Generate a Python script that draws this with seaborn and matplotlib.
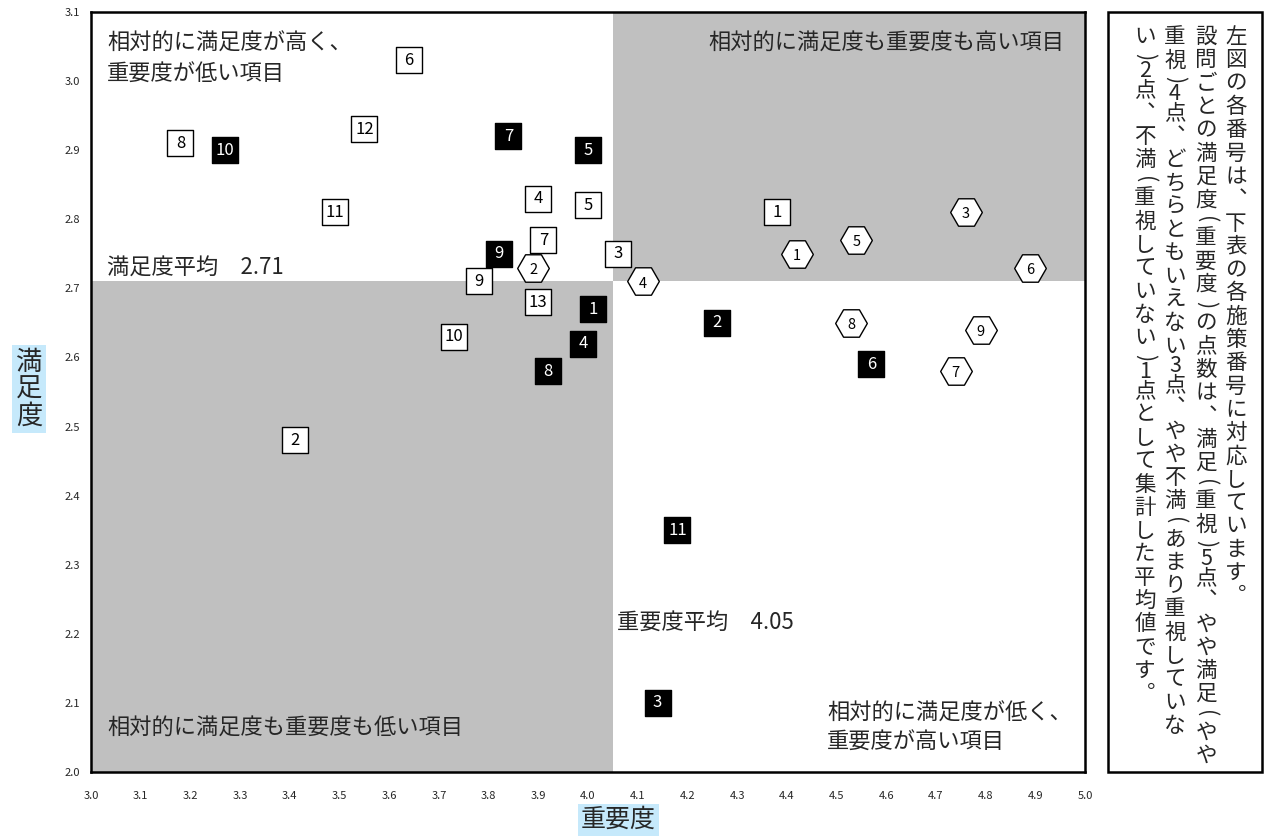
import numpy as np
import pandas as pd
import matplotlib
matplotlib.use("Agg")
import matplotlib.pyplot as plt
import seaborn as sns
from matplotlib.patches import Rectangle

# 白四角の施策
white_no = [1, 2, 3, 4, 5, 6, 7, 8, 9, 10, 11, 12, 13]
white_imp = [4.38, 3.41, 4.06, 3.90, 4.00, 3.64, 3.91, 3.18, 3.78, 3.73, 3.49, 3.55, 3.90]
white_sat = [2.81, 2.48, 2.75, 2.83, 2.82, 3.03, 2.77, 2.91, 2.71, 2.63, 2.81, 2.93, 2.68]

# 黒四角の施策
black_no = [1, 2, 3, 4, 5, 6, 7, 8, 9, 10, 11]
black_imp = [4.01, 4.26, 4.14, 3.99, 4.00, 4.57, 3.84, 3.92, 3.82, 3.27, 4.18]
black_sat = [2.67, 2.65, 2.10, 2.62, 2.90, 2.59, 2.92, 2.58, 2.75, 2.90, 2.35]

# 六角形の施策
hex_no = [1, 2, 3, 4, 5, 6, 7, 8, 9]
hex_imp = [4.42, 3.89, 4.76, 4.11, 4.54, 4.89, 4.74, 4.53, 4.79]
hex_sat = [2.75, 2.73, 2.81, 2.71, 2.77, 2.73, 2.58, 2.65, 2.64]

sat_mean = 2.71
imp_mean = 4.05

x_ticks = np.round(np.arange(3.0, 5.001, 0.1), 1)
y_ticks = np.round(np.arange(2.0, 3.101, 0.1), 1)

# 縦書きの注記（右の列から順に）
note_cols = [
    "左図の各番号は︑下表の各施策番号に対応しています︒",
    "設問ごとの満足度(重要度)の点数は︑満足(重視)5点︑やや満足(やや",
    "重視)4点︑どちらともいえない3点︑やや不満(あまり重視していな",
    "い)2点︑不満(重視していない)1点として集計した平均値です︒",
]

df_w = pd.DataFrame({"imp": white_imp, "sat": white_sat, "no": white_no})
df_b = pd.DataFrame({"imp": black_imp, "sat": black_sat, "no": black_no})
df_h = pd.DataFrame({"imp": hex_imp, "sat": hex_sat, "no": hex_no})

sns.set_theme(style="white")
plt.rcParams['font.family'] = ['Noto Sans CJK JP', 'DejaVu Sans']

W, H = 1265, 838
fig = plt.figure(figsize=(W / 100, H / 100), dpi=100)
ax = fig.add_axes([91 / W, 1 - 772 / H, (1085 - 91) / W, (772 - 12) / H])

# quadrant shading
grey = "#c0c0c0"
ax.add_patch(Rectangle((3.0, 2.0), imp_mean - 3.0, sat_mean - 2.0, color=grey, lw=0, zorder=0))
ax.add_patch(Rectangle((imp_mean, sat_mean), 5.0 - imp_mean, 3.1 - sat_mean, color=grey, lw=0, zorder=0))

sns.scatterplot(data=df_h, x="imp", y="sat", marker="H", s=520, color="white",
                edgecolor="black", linewidth=1, ax=ax, zorder=3)
sns.scatterplot(data=df_b, x="imp", y="sat", marker="s", s=350, color="black",
                edgecolor="black", linewidth=1, ax=ax, zorder=4)
sns.scatterplot(data=df_w, x="imp", y="sat", marker="s", s=350, color="white",
                edgecolor="black", linewidth=1, ax=ax, zorder=5)

for _, r in df_h.iterrows():
    ax.text(r["imp"], r["sat"] - 0.003, str(int(r["no"])), ha="center", va="center",
            fontsize=10.5, color="black", zorder=6)
for _, r in df_b.iterrows():
    ax.text(r["imp"], r["sat"], str(int(r["no"])), ha="center", va="center",
            fontsize=12, color="white", zorder=6)
for _, r in df_w.iterrows():
    ax.text(r["imp"], r["sat"], str(int(r["no"])), ha="center", va="center",
            fontsize=12, color="black", zorder=6)

ax.set_xlim(3.0, 5.0)
ax.set_ylim(2.0, 3.1)
ax.set_xticks(x_ticks)
ax.set_yticks(y_ticks)
ax.set_xticklabels([f"{v:.1f}" for v in x_ticks], fontsize=8)
ax.set_yticklabels([f"{v:.1f}" for v in y_ticks], fontsize=8)
ax.tick_params(axis="x", direction="in", length=5, width=1, pad=14, color="#333333")
ax.tick_params(axis="y", direction="in", length=4, width=1, pad=8, color="#333333")
ax.set_xlabel("")
ax.set_ylabel("")
for sp in ax.spines.values():
    sp.set_linewidth(1.8)
    sp.set_color("black")


def fig_text(px, py, s, **kw):
    fig.text(px / W, 1 - py / H, s, **kw)


# quadrant captions
fs = 16
fig_text(107, 43, "相対的に満足度が高く、", fontsize=fs, va="center")
fig_text(107, 74, "重要度が低い項目", fontsize=fs, va="center")
fig_text(1064, 43, "相対的に満足度も重要度も高い項目", fontsize=fs, va="center", ha="right")
fig_text(107, 268, f"満足度平均　{sat_mean:.2f}", fontsize=fs, va="center")
fig_text(617, 622, f"重要度平均　{imp_mean:.2f}", fontsize=fs, va="center")
fig_text(827, 713, "相対的に満足度が低く、", fontsize=fs, va="center")
fig_text(827, 742, "重要度が高い項目", fontsize=fs, va="center")
fig_text(107, 728, "相対的に満足度も重要度も低い項目", fontsize=fs, va="center")

# axis titles
fig_text(618, 820, "重要度", fontsize=18, ha="center", va="center",
         bbox=dict(boxstyle="square,pad=0.12", fc="#c6e9fb", ec="none"))
fig_text(29, 389, "満\n足\n度", fontsize=19, ha="center", va="center", linespacing=1.0,
         bbox=dict(boxstyle="square,pad=0.15", fc="#c6e9fb", ec="none"))

# note box with vertical text
fig.patches.append(Rectangle((1108 / W, 1 - 772 / H), (1262 - 1108) / W, (772 - 12) / H,
                             transform=fig.transFigure, fill=False, ec="black", lw=1.8))
col_x = [1236, 1206, 1175, 1145]
pitch = 23.3
half = set("0123456789()")
for cx, col in zip(col_x, note_cols):
    y = 25.5
    for ch in col:
        size = pitch * 0.64 if ch in half else pitch
        yc = y + size / 2
        if ch in "()":
            fig_text(cx, yc, ch, fontsize=15.5, ha="center", va="center", rotation=-90)
        else:
            fig_text(cx, yc, ch, fontsize=15.5, ha="center", va="center")
        y += size

fig.savefig("out.png", dpi=100)
